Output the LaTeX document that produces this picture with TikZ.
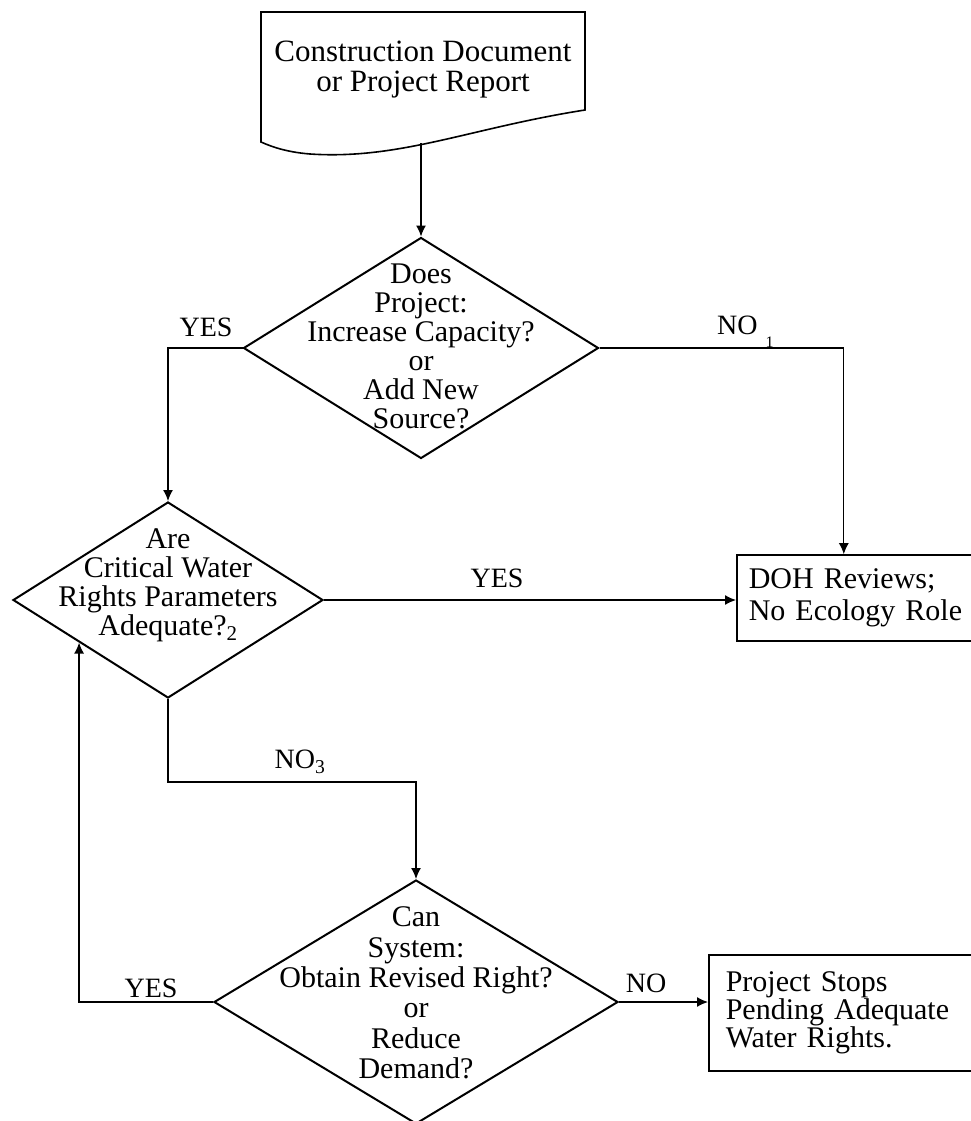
\documentclass[tikz,border=0pt]{standalone}
\usepackage{fontspec}
\setmainfont{Liberation Serif}
\usetikzlibrary{arrows.meta,shapes.geometric,calc}

\tikzset{
  decision/.style={draw, shape=diamond, line width=2pt, inner sep=0pt},
  qtext/.style={align=center, inner sep=0pt, font=\fontsize{30}{29}\selectfont},
  outbox/.style={draw, line width=1.6pt, align=left, anchor=west, font=\fontsize{30}{32}\selectfont},
  flow/.style={-{Latex[length=11pt,width=10pt]}, line width=1.3pt},
  lbl/.style={inner sep=0pt, font=\fontsize{28}{28}\selectfont}
}

\begin{document}
\begin{tikzpicture}[x=1pt,y=-1pt]
\useasboundingbox (0,0) rectangle (971,1121);

\draw[line width=1.6pt] (261,12) -- (585,12) -- (585,110)
  .. controls (470,128) and (400,160) .. (310,154)
  .. controls (285,152) and (270,146) .. (261,142) -- cycle;
\coordinate (docout) at (421,143);
\node[qtext, font=\fontsize{31}{30}\selectfont] (doc) at (423,70) {Construction Document\\or Project Report};

\node[decision, minimum width=355pt, minimum height=221pt] (d1) at (421,348) {};
\node[qtext] (d1t) at (421,346) {Does\\Project:\\Increase Capacity?\\or\\Add New\\Source?};

\node[decision, minimum width=310pt, minimum height=196pt] (d2) at (168,600) {};
\node[qtext] (d2t) at (168,585) {Are\\Critical Water\\Rights Parameters\\Adequate?\textsubscript{2}};

\node[decision, minimum width=404pt, minimum height=244pt] (d3) at (416,1002) {};
\node[qtext, font=\fontsize{30}{30.4}\selectfont] (d3t) at (416,993) {Can\\System:\\Obtain Revised Right?\\or\\Reduce\\Demand?};

\node[outbox, minimum height=86pt, text width=220pt, inner xsep=12pt] (doh) at (736,598) {DOH Reviews;\\No Ecology Role};
\node[outbox, minimum height=116pt, text width=250pt, inner xsep=17pt, font=\fontsize{30}{26}\selectfont] (stop) at (708,1013) {Project Stops\\Pending Adequate\\Water Rights.};

\coordinate (bend) at (416,782);

\draw[flow] (docout) -- (d1.north);
\draw[flow] (d1.west) -| (d2.north);
\draw[flow] (d1.east) -| ([xshift=-15pt]doh.north);
\draw[flow] (d2.east) -- (d2.east -| doh.west);
\draw[flow] (d2.south) |- (bend) -- (d3.north);
\draw[flow] (d3.west) -| ($(d2.west)!0.43!(d2.south)$);
\draw[flow] (d3.east) -- (d3.east -| stop.west);

\node[lbl] (yes1) at (206,327) {YES};
\node[lbl, anchor=base west] (no1) at (717,334) {NO\hspace{8pt}\raisebox{-13pt}{\fontsize{16}{16}\selectfont 1}};
\node[lbl] (yes2) at (497,578) {YES};
\node[lbl] (no3) at (300,762) {NO\textsubscript{3}};
\node[lbl] (yes3) at (151,988) {YES};
\node[lbl] (no4) at (646,983) {NO};
\end{tikzpicture}
\end{document}
